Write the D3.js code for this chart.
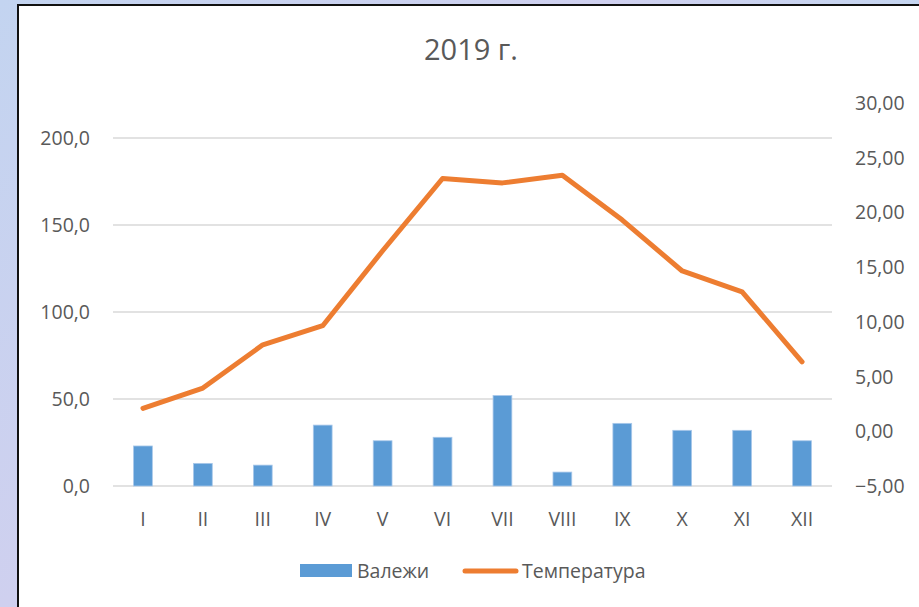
<!DOCTYPE html>
<html lang="ru">
<head>
<meta charset="UTF-8">
<title>2019 г.</title>
<script src="https://d3js.org/d3.v7.min.js"></script>
<style>
  html, body { margin: 0; padding: 0; }
  body {
    width: 919px; height: 607px; overflow: hidden;
    background: linear-gradient(135deg, #c3d4f0 0%, #cfd0ef 40%, #c1d8f1 70%, #cdcfee 100%);
    font-family: "Open Sans", "Noto Sans", sans-serif;
  }
  svg { display: block; }
  .lbl { fill: #595959; font-size: 19.5px; }
</style>
</head>
<body>
<svg id="chart" width="919" height="607"></svg>
<script>
// data
const months = ["I", "II", "III", "IV", "V", "VI", "VII", "VIII", "IX", "X", "XI", "XII"];
const rainfall = [23, 13, 12, 35, 26, 28, 52, 8, 36, 32, 32, 26];
const temperature = [2.1, 3.95, 7.9, 9.65, 16.5, 23.1, 22.7, 23.4, 19.3, 14.65, 12.75, 6.35];
const leftTicks = [0, 50, 100, 150, 200];
const rightTicks = [-5, 0, 5, 10, 15, 20, 25, 30];

const svg = d3.select("#chart");

// white chart area with dark frame on the left / top
svg.append("rect").attr("x", 19).attr("y", 6).attr("width", 900).attr("height", 601).attr("fill", "#fff");
svg.append("path").attr("d", "M18,607 V5 H919").attr("fill", "none").attr("stroke", "#111").attr("stroke-width", 2);

const plot = { left: 113, right: 832, top: 103, bottom: 486 };

const x = d3.scaleBand().domain(months).range([plot.left, plot.right]);
const yL = d3.scaleLinear().domain([0, 200]).range([plot.bottom, 138]);
const yR = d3.scaleLinear().domain([-5, 30]).range([plot.bottom, plot.top]);

// title
svg.append("text").attr("x", 471).attr("y", 60).attr("text-anchor", "middle")
  .attr("fill", "#595959").style("font-size", "29px").text("2019 г.");

// gridlines
svg.append("g").selectAll("line").data(leftTicks).join("line")
  .attr("x1", plot.left).attr("x2", plot.right)
  .attr("y1", d => yL(d)).attr("y2", d => yL(d))
  .attr("stroke", "#d9d9d9").attr("stroke-width", 1.5);

// left axis labels
svg.append("g").selectAll("text").data(leftTicks).join("text")
  .attr("class", "lbl").attr("x", 90).attr("y", d => yL(d)).attr("dy", "0.36em")
  .attr("text-anchor", "end").text(d => d3.format(".1f")(d).replace(".", ","));

// right axis labels
svg.append("g").selectAll("text").data(rightTicks).join("text")
  .attr("class", "lbl").attr("x", 855).attr("y", d => yR(d)).attr("dy", "0.36em")
  .attr("text-anchor", "start").text(d => d3.format(".2f")(d).replace(".", ","));

// category labels
svg.append("g").selectAll("text").data(months).join("text")
  .attr("class", "lbl").attr("x", d => x(d) + x.bandwidth() / 2).attr("y", 526)
  .attr("text-anchor", "middle").text(d => d);

// bars
const barW = x.bandwidth() / 3.19;
svg.append("g").selectAll("rect").data(rainfall).join("rect")
  .attr("x", (d, i) => x(months[i]) + (x.bandwidth() - barW) / 2)
  .attr("width", barW)
  .attr("y", d => yL(d))
  .attr("height", d => yL(0) - yL(d))
  .attr("fill", "#5b9bd5").attr("stroke", "#a9c8ea").attr("stroke-width", 0.8);

// temperature line
const line = d3.line()
  .x((d, i) => x(months[i]) + x.bandwidth() / 2)
  .y(d => yR(d));
svg.append("path").datum(temperature).attr("d", line)
  .attr("fill", "none").attr("stroke", "#ed7d31").attr("stroke-width", 5)
  .attr("stroke-linejoin", "round").attr("stroke-linecap", "round");

// legend
const lg = svg.append("g");
lg.append("rect").attr("x", 300).attr("y", 564).attr("width", 52).attr("height", 13).attr("fill", "#5b9bd5");
lg.append("text").attr("class", "lbl").attr("x", 357).attr("y", 571).attr("dy", "0.36em").text("Валежи");
lg.append("line").attr("x1", 465).attr("x2", 516).attr("y1", 571).attr("y2", 571)
  .attr("stroke", "#ed7d31").attr("stroke-width", 5).attr("stroke-linecap", "round");
lg.append("text").attr("class", "lbl").attr("x", 522).attr("y", 571).attr("dy", "0.36em").text("Температура");
</script>
</body>
</html>
